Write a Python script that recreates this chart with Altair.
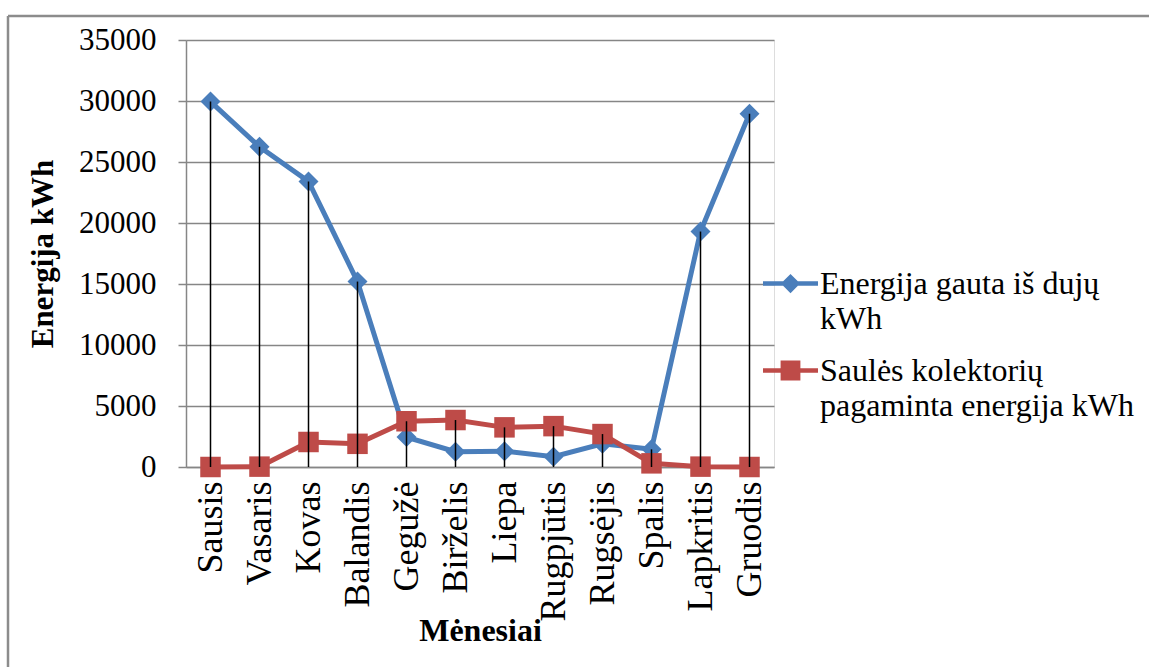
import altair as alt
import pandas as pd

MONTHS = ["Sausis", "Vasaris", "Kovas", "Balandis", "Gegužė", "Birželis",
          "Liepa", "Rugpjūtis", "Rugsėjis", "Spalis", "Lapkritis", "Gruodis"]
GAS = [29950, 26250, 23400, 15200, 2450, 1250, 1300, 850, 1900, 1450, 19300, 28950]
SOLAR = [0, 30, 2050, 1900, 3750, 3850, 3250, 3350, 2700, 300, 30, 0]
KEYS = ["gas", "solar"]
SERIES = ["Energija gauta iš dujų\nkWh", "Saulės kolektorių\npagaminta energija kWh"]
COLORS = ["#4A7EBB", "#BE4B48"]
Y_TICKS = [0, 5000, 10000, 15000, 20000, 25000, 30000, 35000]

FONT = "Liberation Serif"
GRID = "#868686"

long_df = pd.DataFrame({
    "month": MONTHS * 2,
    "key": [KEYS[0]] * len(MONTHS) + [KEYS[1]] * len(MONTHS),
    "series": [SERIES[0]] * len(MONTHS) + [SERIES[1]] * len(MONTHS),
    "value": GAS + SOLAR,
})
wide_df = pd.DataFrame({"month": MONTHS, "gas": GAS, "solar": SOLAR})

x_enc = alt.X(
    "month:N", sort=MONTHS,
    scale=alt.Scale(type="point", padding=0.5),
    axis=alt.Axis(
        labelAngle=-90, labelAlign="right", labelBaseline="middle",
        labelPadding=14, ticks=False, grid=False,
        domainColor=GRID, domainWidth=1.5,
        labelFont=FONT, labelFontSize=36, labelColor="black",
        title="Mėnesiai", titleFont=FONT, titleFontSize=32,
        titleFontWeight="bold", titleColor="black",
        titleY=173, titleBaseline="alphabetic",
    ),
)

y_axis = alt.Axis(
    values=Y_TICKS, format="d", grid=True, gridColor=GRID, gridWidth=1.5,
    domainColor=GRID, domainWidth=1.5, tickColor=GRID, tickSize=8, tickWidth=1.5,
    labelFont=FONT, labelFontSize=31, labelColor="black", labelPadding=22,
    title="Energija kWh", titleFont=FONT, titleFontSize=31,
    titleFontWeight="bold", titleColor="black", titleAngle=270,
    titleX=-134, titleY=213.5, titleAlign="center", titleBaseline="alphabetic",
)
y_scale = alt.Scale(domain=[0, 35000], nice=False)

color_enc = alt.Color("key:N", scale=alt.Scale(domain=KEYS, range=COLORS), legend=None)

base = alt.Chart(long_df)

gas_line = base.transform_filter(alt.datum.key == "gas").mark_line(strokeWidth=5).encode(
    x=x_enc, y=alt.Y("value:Q", scale=y_scale, axis=y_axis), color=color_enc)
gas_pts = base.transform_filter(alt.datum.key == "gas").mark_point(
    shape="diamond", filled=True, size=400, opacity=1).encode(
    x=x_enc, y=alt.Y("value:Q", scale=y_scale, axis=y_axis), color=color_enc)
sol_line = base.transform_filter(alt.datum.key == "solar").mark_line(strokeWidth=5).encode(
    x=x_enc, y=alt.Y("value:Q", scale=y_scale, axis=y_axis), color=color_enc)
sol_pts = base.transform_filter(alt.datum.key == "solar").mark_point(
    shape="square", filled=True, size=420, opacity=1).encode(
    x=x_enc, y=alt.Y("value:Q", scale=y_scale, axis=y_axis), color=color_enc)

drops = alt.Chart(wide_df).transform_calculate(
    top="max(datum.gas, datum.solar)", zero="0"
).mark_rule(color="black", strokeWidth=1.5).encode(
    x=x_enc, y=alt.Y("top:Q", scale=y_scale, axis=y_axis), y2="zero:Q")

PATH_DIAMOND = "M-1,-0.08L1,-0.08L1,0.08L-1,0.08Z M0,-0.35L0.35,0L0,0.35L-0.35,0Z"
PATH_SQUARE = "M-1,-0.08L1,-0.08L1,0.08L-1,0.08Z M-0.36,-0.36L0.36,-0.36L0.36,0.36L-0.36,0.36Z"

legend = alt.Legend(
    title=None, orient="none", legendX=577, legendY=216,
    labelExpr="split(datum.label, '\\n')",
    labelFont=FONT, labelFontSize=32, labelColor="black", labelBaseline="middle",
    labelLimit=600, labelOffset=2, rowPadding=8, padding=0,
    symbolSize=3025, symbolStrokeWidth=0, symbolOpacity=1,
)
legend_layer = base.transform_filter("datum.value < 0").mark_point(
    filled=True, size=3025, opacity=1, strokeWidth=0).encode(
    x=x_enc, y=alt.Y("value:Q", scale=y_scale, axis=y_axis),
    fill=alt.Fill("series:N", scale=alt.Scale(domain=SERIES, range=COLORS), legend=legend),
    shape=alt.Shape("series:N", scale=alt.Scale(domain=SERIES, range=[PATH_DIAMOND, PATH_SQUARE]),
                    legend=legend),
)

frame = alt.Chart(alt.Data(values=[{}])).mark_rule(color="#8c8c8c", strokeWidth=2.5)
frame_top = frame.encode(x=alt.value(-178), x2=alt.value(1100), y=alt.value(-24))
frame_left = frame.encode(x=alt.value(-178), y=alt.value(-24), y2=alt.value(700))

chart = alt.layer(
    gas_line, gas_pts, sol_line, sol_pts, drops, legend_layer, frame_top, frame_left
).properties(
    width=588, height=427,
    autosize=alt.AutoSizeParams(type="none"),
    padding={"left": 186, "top": 40, "right": 375, "bottom": 200},
    background="white",
).configure_view(stroke=None).configure(style={"guide-label": {"lineHeight": 35}})

chart.save("out.html", embed_options={"renderer": "svg", "actions": False})
